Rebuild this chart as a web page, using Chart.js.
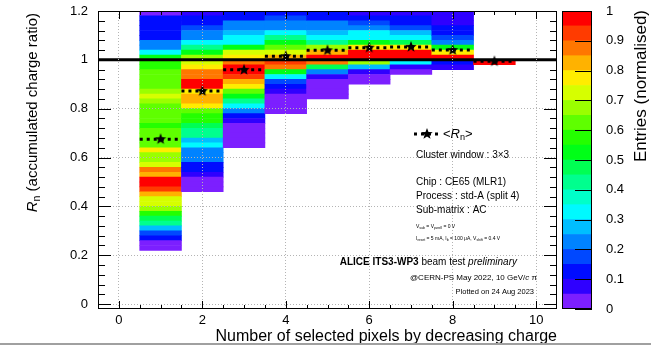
<!DOCTYPE html>
<html>
<head>
<meta charset="utf-8">
<script src="https://cdn.jsdelivr.net/npm/chart.js@4.4.0/dist/chart.umd.min.js"></script>
<style>
  html, body { margin: 0; padding: 0; background: #fff; }
  #wrap { position: relative; width: 651px; height: 351px; overflow: hidden; }
  #main { position: absolute; left: 0; top: 0; }
  #pal { position: absolute; left: 540px; top: 0; }
  #rule { position: absolute; left: 0; top: 343px; width: 651px; height: 2px; background: #a0a0a0; }
</style>
</head>
<body>
<div id="wrap">
  <canvas id="main" width="651" height="351"></canvas>
  <canvas id="pal" width="111" height="351"></canvas>
  <div id="rule"></div>
</div>
<script>
// number of selected pixels (x bins, width 1) and mean R_n per bin
const nPixels = [1, 2, 3, 4, 5, 6, 7, 8, 9];
const meanRn = [0.675, 0.872, 0.959, 1.015, 1.039, 1.050, 1.053, 1.040, 0.994];

// R_n bins of 0.02, listed from the top bin (1.18-1.20) downwards; null = empty
const binTop = 1.2;
const binStep = 0.02;
const col1 = [0.04, 0.12, 0.12, 0.12, 0.12, 0.13, 0.22, 0.24, 0.32, 0.52,
              0.57, 0.58, 0.62, 0.62, 0.63, 0.62, 0.67, 0.73, 0.67, 0.63,
              0.63, 0.60, 0.60, 0.56, 0.62, 0.62, 0.62, 0.63, 0.77, 0.67,
              0.68, 0.70, 0.86, 0.82, 0.97, 0.96, 0.92, 0.82, 0.74, 0.73,
              0.67, 0.56, 0.45, 0.43, 0.28, 0.18, 0.12, 0.04, 0.03];
const col2 = [0.07, 0.12, 0.12, 0.18, 0.22, 0.22, 0.32, 0.42, 0.52, 0.68,
              0.72, 0.76, 0.86, 0.86, 0.97, 0.97, 0.78, 0.84, 0.84, 0.77,
              0.62, 0.55, 0.55, 0.45, 0.44, 0.42, 0.27, 0.32, 0.22, 0.22,
              0.20, 0.12, 0.11, 0.08, 0.04, 0.03, 0.03];
const col3 = [0.10, 0.12, 0.20, 0.22, 0.25, 0.30, 0.33, 0.52, 0.70, 0.76,
              0.87, 0.95, 0.96, 0.93, 0.84, 0.76, 0.62, 0.50, 0.42, 0.32,
              0.22, 0.12, 0.08, 0.04, 0.04, 0.04, 0.03, 0.03];
const col4 = [0.12, 0.15, 0.20, 0.24, 0.30, 0.40, 0.50, 0.60, 0.74, 0.80,
              0.93, 0.86, 0.52, 0.30, 0.18, 0.12, 0.06, 0.04, 0.03, 0.03, 0.03];
const col5 = [0.10, 0.12, 0.22, 0.24, 0.27, 0.32, 0.42, 0.68, 0.84, 0.95,
              0.86, 0.45, 0.24, 0.08, 0.04, 0.03, 0.03, 0.03];
const col6 = [0.08, 0.12, 0.16, 0.24, 0.30, 0.33, 0.50, 0.76, 0.96, 0.97,
              0.68, 0.25, 0.06, 0.04, 0.03];
const col7 = [0.08, 0.10, 0.13, 0.18, 0.26, 0.32, 0.45, 0.78, 0.96, 0.97,
              0.34, 0.08, 0.04];
const col8 = [0.05, 0.05, 0.08, 0.12, 0.13, 0.17, 0.24, 0.50, 0.78, 0.96,
              0.12, 0.05];
const col9 = [null, null, null, null, null, null, null, null, null, null, 1.0];
const columns = [col1, col2, col3, col4, col5, col6, col7, col8, col9];

const refLine = 1;
const xTicks = [0, 2, 4, 6, 8, 10];
const yTicks = [0, 0.2, 0.4, 0.6, 0.8, 1, 1.2];
const zTicks = [0, 0.1, 0.2, 0.3, 0.4, 0.5, 0.6, 0.7, 0.8, 0.9, 1];
const nLevels = 20;

const FAM = "'Liberation Sans', Arial, Helvetica, sans-serif";
Chart.defaults.font.family = FAM;
Chart.defaults.color = '#000';

function levelColor(i) {
  const h = 265 - i * 265 / (nLevels - 1);
  return 'hsl(' + h + ',100%,' + (i === 0 ? 56 : 50) + '%)';
}
function colorFor(v) {
  return levelColor(Math.min(nLevels - 1, Math.floor(v * nLevels)));
}

function rich(ctx, x, y, parts, size, align) {
  const spec = k => {
    const sub = k.includes('s');
    const sz = sub ? size * 0.7 : size;
    return {
      font: (k.includes('i') ? 'italic ' : '') + (k.includes('b') ? 'bold ' : '') + sz + 'px ' + FAM,
      dy: sub ? size * 0.3 : 0
    };
  };
  let w = 0;
  parts.forEach(([t, k]) => { ctx.font = spec(k).font; w += ctx.measureText(t).width; });
  let cx = align === 'right' ? x - w : x;
  ctx.textBaseline = 'middle';
  ctx.textAlign = 'left';
  ctx.fillStyle = '#000';
  parts.forEach(([t, k]) => {
    const s = spec(k);
    ctx.font = s.font;
    ctx.fillText(t, cx, y + s.dy);
    cx += ctx.measureText(t).width;
  });
}

function makeStar(r) {
  const c = document.createElement('canvas');
  const s = Math.ceil(r * 2) + 2;
  c.width = c.height = s;
  const g = c.getContext('2d');
  g.translate(s / 2, s / 2);
  g.beginPath();
  for (let i = 0; i < 10; i++) {
    const a = -Math.PI / 2 + i * Math.PI / 5;
    const rr = i % 2 ? r * 0.42 : r;
    g.lineTo(rr * Math.cos(a), rr * Math.sin(a));
  }
  g.closePath();
  g.fillStyle = '#000';
  g.fill();
  return c;
}
const star = makeStar(6);

// histogram cells
const heatCells = [];
columns.forEach((col, i) => col.forEach((v, k) => {
  if (v === null) return;
  const hi = +(binTop - k * binStep).toFixed(3);
  heatCells.push({ x: nPixels[i], y: [+(hi - binStep).toFixed(3), hi], v: v });
}));

// mean with horizontal bin-width bars
const meanSegs = [];
nPixels.forEach((n, i) => {
  meanSegs.push({ x: n - 0.5, y: meanRn[i] }, { x: n + 0.5, y: meanRn[i] }, { x: n + 0.5, y: null });
});
const meanPts = nPixels.map((n, i) => ({ x: n, y: meanRn[i] }));

const framePlugin = {
  id: 'frame',
  afterDraw(chart) {
    const { ctx, chartArea: a, scales: { x, y } } = chart;
    ctx.save();
    ctx.strokeStyle = '#000';
    ctx.lineWidth = 1;
    ctx.strokeRect(a.left + 0.5, a.top + 0.5, a.right - a.left - 1, a.bottom - a.top - 1);
    ctx.beginPath();
    for (let v = 0; v <= 10.001; v += 0.5) {
      const px = Math.round(x.getPixelForValue(v)) + 0.5;
      const len = xTicks.includes(Math.round(v * 10) / 10) ? 8 : 4;
      ctx.moveTo(px, a.bottom); ctx.lineTo(px, a.bottom - len);
      ctx.moveTo(px, a.top); ctx.lineTo(px, a.top + len);
    }
    for (let i = 0; i <= 30; i++) {
      const v = i * 0.04;
      const py = Math.round(y.getPixelForValue(v)) + 0.5;
      const len = i % 5 === 0 ? 13 : 7;
      ctx.moveTo(a.left, py); ctx.lineTo(a.left + len, py);
      ctx.moveTo(a.right, py); ctx.lineTo(a.right - len, py);
    }
    ctx.stroke();

    // y title
    ctx.save();
    ctx.translate(33, 13);
    ctx.rotate(-Math.PI / 2);
    rich(ctx, 0, 0, [['R', 'i'], ['n', 's'], [' (accumulated charge ratio)', '']], 15, 'right');
    ctx.restore();

    // legend entry
    ctx.save();
    ctx.strokeStyle = '#000';
    ctx.lineWidth = 3;
    ctx.setLineDash([3, 4]);
    ctx.beginPath();
    ctx.moveTo(414, 134); ctx.lineTo(440, 134);
    ctx.stroke();
    ctx.restore();
    ctx.drawImage(star, 427 - star.width / 2, 134 - star.height / 2);
    rich(ctx, 443, 134, [['<', ''], ['R', 'i'], ['n', 's'], ['>', '']], 13);

    rich(ctx, 416, 155, [['Cluster window : 3\u00d73', '']], 10);
    rich(ctx, 416, 182, [['Chip : CE65 (MLR1)', '']], 10);
    rich(ctx, 416, 196, [['Process : std-A (split 4)', '']], 10);
    rich(ctx, 416, 210, [['Sub-matrix : AC', '']], 10);
    rich(ctx, 416, 227, [['V', ''], ['sub', 's'], [' = V', ''], ['pwell', 's'], [' = 0 V', '']], 5);
    rich(ctx, 416, 239, [['I', ''], ['reset', 's'], [' = 5 mA, I', ''], ['b', 's'], [' = 100 \u03bcA, V', ''], ['shift', 's'], [' = 0.4 V', '']], 5);
    rich(ctx, 517, 262, [['ALICE ITS3-WP3', 'b'], [' beam test ', ''], ['preliminary', 'i']], 10, 'right');
    rich(ctx, 537, 278, [['@CERN-PS May 2022, 10 GeV/', ''], ['c', 'i'], [' \u03c0', '']], 8, 'right');
    rich(ctx, 534, 292, [['Plotted on 24 Aug 2023', '']], 7.5, 'right');
    ctx.restore();
  }
};

const gridColor = ctx => (ctx.tick && ctx.tick.value === refLine && ctx.scale.axis === 'y') ? 'rgba(0,0,0,0)' : '#b4b4b4';

new Chart(document.getElementById('main'), {
  type: 'bar',
  data: {
    datasets: [
      {
        type: 'line', data: meanPts, showLine: false, pointStyle: star,
        pointRadius: 6, order: 0
      },
      {
        type: 'line', data: meanSegs, borderColor: '#000', borderWidth: 3,
        borderDash: [3, 4], pointRadius: 0, spanGaps: false, order: 1
      },
      {
        type: 'line', data: [{ x: -0.5, y: refLine }, { x: 10.5, y: refLine }],
        borderColor: '#000', borderWidth: 3, pointRadius: 0, order: 2
      },
      {
        type: 'bar', data: heatCells, order: 3,
        backgroundColor: ctx => colorFor(ctx.raw.v),
        borderWidth: 0, barPercentage: 1, categoryPercentage: 1, grouped: false
      }
    ]
  },
  options: {
    responsive: false,
    animation: false,
    devicePixelRatio: 1,
    events: [],
    layout: { padding: { top: 11, right: 94, left: 0, bottom: 0 } },
    plugins: { legend: { display: false }, tooltip: { enabled: false } },
    scales: {
      x: {
        type: 'linear', min: -0.5, max: 10.5, offset: false,
        afterBuildTicks: s => { s.ticks = xTicks.map(v => ({ value: v })); },
        afterFit: s => { s.height = 42; s.paddingLeft = 0; s.paddingRight = 0; },
        ticks: { font: { size: 13 }, padding: 4, maxRotation: 0, autoSkip: false },
        grid: { color: gridColor, drawTicks: false, offset: false, z: 1 },
        border: { display: false, dash: [1, 2] },
        title: {
          display: true, text: 'Number of selected pixels by decreasing charge',
          align: 'end', font: { size: 16 }, padding: { top: 0, bottom: 5 }
        }
      },
      y: {
        type: 'linear', min: -0.02, max: 1.2,
        afterBuildTicks: s => { s.ticks = yTicks.map(v => ({ value: v })); },
        afterFit: s => { s.width = 98; s.paddingTop = 0; s.paddingBottom = 0; },
        ticks: { font: { size: 13 }, padding: 10, callback: v => String(+v.toFixed(2)) },
        grid: { color: gridColor, drawTicks: false, z: 1 },
        border: { display: false, dash: [1, 2] }
      }
    }
  },
  plugins: [framePlugin]
});

// colour palette axis
const palPlugin = {
  id: 'palFrame',
  afterDraw(chart) {
    const { ctx, chartArea: a, scales: { y } } = chart;
    ctx.save();
    ctx.strokeStyle = '#000';
    ctx.lineWidth = 1;
    ctx.strokeRect(a.left + 0.5, a.top + 0.5, a.right - a.left - 1, a.bottom - a.top - 1);
    ctx.beginPath();
    zTicks.forEach(v => {
      const py = Math.round(y.getPixelForValue(v)) + 0.5;
      ctx.moveTo(a.right, py); ctx.lineTo(a.right - 17, py);
    });
    ctx.stroke();
    ctx.translate(101, 10);
    ctx.rotate(-Math.PI / 2);
    rich(ctx, 0, 0, [['Entries (normalised)', '']], 17, 'right');
    ctx.restore();
  }
};

const palSets = [];
for (let i = 0; i < nLevels; i++) {
  palSets.push({
    data: [[i / nLevels, (i + 1) / nLevels]],
    backgroundColor: levelColor(i), borderWidth: 0,
    barPercentage: 1, categoryPercentage: 1, grouped: false
  });
}

new Chart(document.getElementById('pal'), {
  type: 'bar',
  data: { labels: [''], datasets: palSets },
  options: {
    responsive: false,
    animation: false,
    devicePixelRatio: 1,
    events: [],
    layout: { padding: { left: 22, top: 11, bottom: 42, right: 0 } },
    plugins: { legend: { display: false }, tooltip: { enabled: false } },
    scales: {
      x: { display: false },
      y: {
        position: 'right', min: 0, max: 1,
        afterBuildTicks: s => { s.ticks = zTicks.map(v => ({ value: v })); },
        afterFit: s => { s.width = 59; s.paddingTop = 0; s.paddingBottom = 0; },
        ticks: { font: { size: 13 }, padding: 6, callback: v => String(+v.toFixed(1)) },
        grid: { display: false },
        border: { display: false }
      }
    }
  },
  plugins: [palPlugin]
});
</script>
</body>
</html>
